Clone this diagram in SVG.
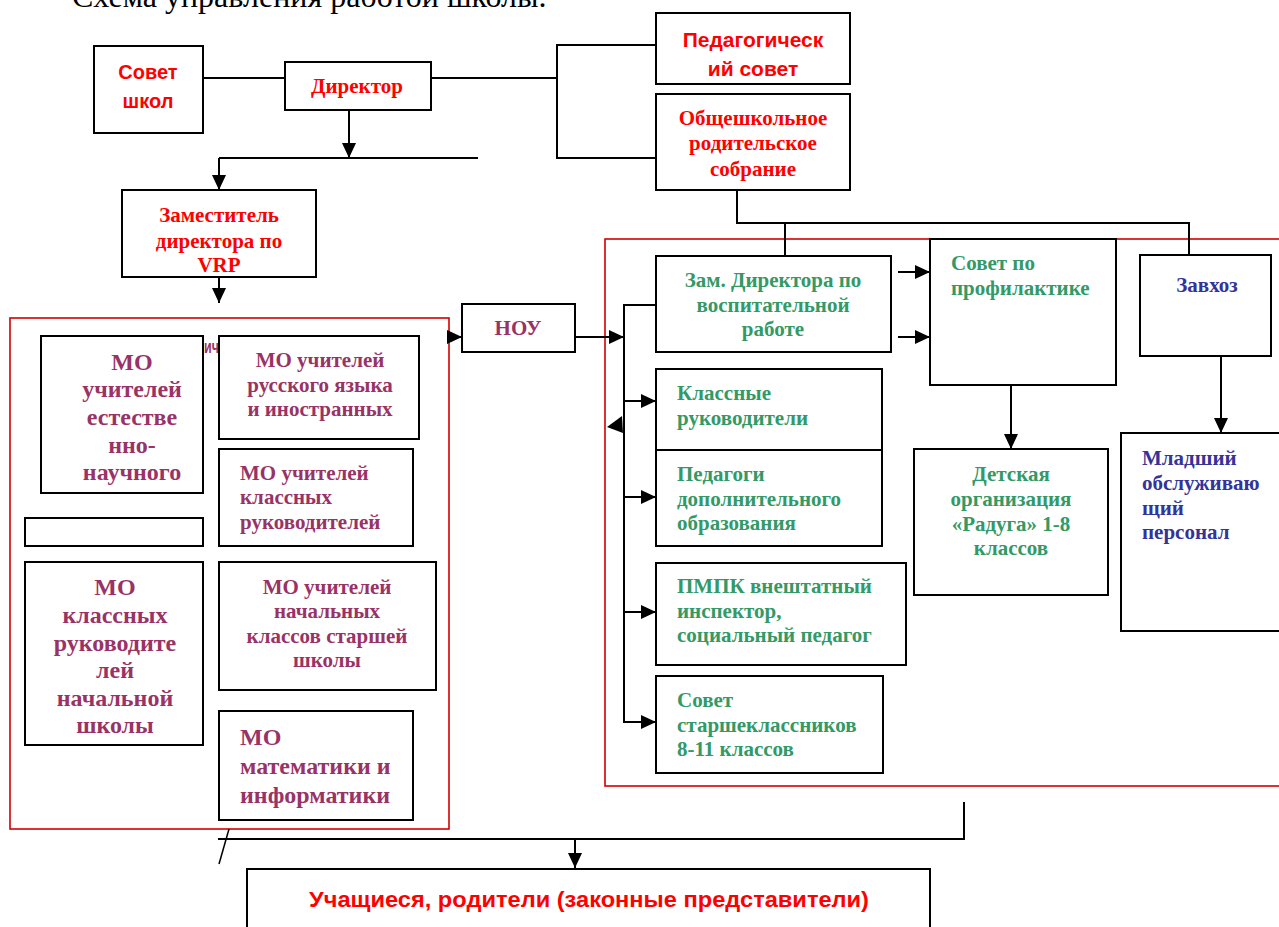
<svg xmlns="http://www.w3.org/2000/svg" width="1279" height="927" viewBox="0 0 1279 927">
<style>
.box{fill:#fff;stroke:#000;stroke-width:2}
.frame{fill:none;stroke:#d00000;stroke-width:1.6}
.ln{fill:none;stroke:#000;stroke-width:2}
.sr{font-family:"Liberation Serif","Times New Roman",serif;font-weight:bold;font-size:21px}
.sn{font-family:"Liberation Sans",Arial,sans-serif;font-weight:bold}
.big{font-size:24px}
.red{fill:#ff0000}
.mar{fill:#993366}
.grn{fill:#339966}
.blu{fill:#333399}
.c{text-anchor:middle}
</style>
<defs>
<marker id="arr" viewBox="0 0 15 14" refX="15" refY="7" markerWidth="15" markerHeight="14" markerUnits="userSpaceOnUse" orient="auto">
<path d="M0,0 L15,7 L0,14 z" fill="#000"/>
</marker>
</defs>
<rect width="1279" height="927" fill="#fff"/>

<text x="72" y="7" font-family="Liberation Serif,serif" font-size="32" fill="#000">Схема управления работой школы.</text>

<!-- frames -->
<rect class="frame" x="10" y="318" width="439" height="511"/>
<rect class="frame" x="605" y="239" width="690" height="547"/>

<text class="sn mar" x="204" y="353" font-size="18" textLength="15" lengthAdjust="spacingAndGlyphs">ич</text>

<g id="connectors">
<line class="ln" x1="203" y1="78" x2="285" y2="78"/>
<line class="ln" x1="431" y1="78" x2="557" y2="78"/>
<polyline class="ln" points="656,45 557,45 557,158 656,158"/>
<line class="ln" x1="349" y1="110" x2="349" y2="158" marker-end="url(#arr)"/>
<line class="ln" x1="219" y1="158" x2="478" y2="158"/>
<line class="ln" x1="219" y1="158" x2="219" y2="190" marker-end="url(#arr)"/>
<line class="ln" x1="219" y1="277" x2="219" y2="303" marker-end="url(#arr)"/>
<line class="ln" x1="449" y1="337" x2="462" y2="337" marker-end="url(#arr)"/>
<line class="ln" x1="575" y1="337" x2="624" y2="337" marker-end="url(#arr)"/>
<polyline class="ln" points="656,305 624,305 624,723"/>
<line class="ln" x1="624" y1="401" x2="656" y2="401" marker-end="url(#arr)"/>
<line class="ln" x1="624" y1="497" x2="656" y2="497" marker-end="url(#arr)"/>
<line class="ln" x1="624" y1="612" x2="656" y2="612" marker-end="url(#arr)"/>
<line class="ln" x1="623" y1="722" x2="656" y2="722" marker-end="url(#arr)"/>
<polygon points="607,427 622,416 623,433" fill="#000"/>
<polyline class="ln" points="737,190 737,223 1189,223 1189,256"/>
<line class="ln" x1="785" y1="223" x2="785" y2="256"/>
<line class="ln" x1="898" y1="272" x2="930" y2="272" marker-end="url(#arr)"/>
<line class="ln" x1="898" y1="337" x2="930" y2="337" marker-end="url(#arr)"/>
<line class="ln" x1="1011" y1="385" x2="1011" y2="449" marker-end="url(#arr)"/>
<line class="ln" x1="1221" y1="356" x2="1221" y2="433" marker-end="url(#arr)"/>
<polyline class="ln" points="964,802 964,839 218,839"/>
<line class="ln" x1="575" y1="839" x2="575" y2="868" marker-end="url(#arr)"/>
<line x1="229" y1="829" x2="219" y2="864" stroke="#000" stroke-width="1.5"/>
</g>

<g id="sovet-shkol">
<rect class="box" x="94" y="46" width="109" height="87"/>
<text class="sn red c" x="148" y="79" font-size="20">Совет</text>
<text class="sn red c" x="148" y="108" font-size="20">школ</text>
</g>

<g id="direktor">
<rect class="box" x="285" y="62" width="146" height="48"/>
<text class="sr red c" x="357" y="93">Директор</text>
</g>

<g id="ped-sovet">
<rect class="box" x="656" y="13" width="194" height="71"/>
<text class="sn red c" x="753" y="47" font-size="21">Педагогическ</text>
<text class="sn red c" x="753" y="76" font-size="21">ий совет</text>
</g>

<g id="roditelskoe">
<rect class="box" x="656" y="94" width="194" height="96"/>
<text class="sr red c" x="753" y="125">Общешкольное</text>
<text class="sr red c" x="753" y="150">родительское</text>
<text class="sr red c" x="753" y="176">собрание</text>
</g>

<g id="zamestitel">
<rect class="box" x="122" y="190" width="194" height="87"/>
<text class="sr red c" x="219" y="222">Заместитель</text>
<text class="sr red c" x="219" y="248">директора по</text>
<text class="sr red c" x="219" y="272">VRP</text>
</g>

<g id="mo-estestv">
<rect class="box" x="41" y="336" width="162" height="157"/>
<text class="sr mar c big" x="132" y="370">МО</text>
<text class="sr mar c big" x="132" y="397">учителей</text>
<text class="sr mar c big" x="132" y="425">естестве</text>
<text class="sr mar c big" x="132" y="453">нно-</text>
<text class="sr mar c big" x="132" y="480">научного</text>
</g>

<g id="empty-box">
<rect class="box" x="25" y="518" width="178" height="28"/>
</g>

<g id="mo-russk">
<rect class="box" x="219" y="336" width="200" height="103"/>
<text class="sr mar c" x="320" y="367">МО учителей</text>
<text class="sr mar c" x="320" y="392">русского языка</text>
<text class="sr mar c" x="320" y="416">и иностранных</text>
</g>

<g id="mo-klass">
<rect class="box" x="219" y="449" width="194" height="97"/>
<text class="sr mar" x="240" y="480">МО учителей</text>
<text class="sr mar" x="240" y="504">классных</text>
<text class="sr mar" x="240" y="529">руководителей</text>
</g>

<g id="mo-klass-nach">
<rect class="box" x="25" y="562" width="178" height="183"/>
<text class="sr mar c big" x="115" y="595">МО</text>
<text class="sr mar c big" x="115" y="623">классных</text>
<text class="sr mar c big" x="115" y="651">руководите</text>
<text class="sr mar c big" x="115" y="678">лей</text>
<text class="sr mar c big" x="115" y="706">начальной</text>
<text class="sr mar c big" x="115" y="733">школы</text>
</g>

<g id="mo-nach">
<rect class="box" x="219" y="562" width="217" height="128"/>
<text class="sr mar c" x="327" y="594">МО учителей</text>
<text class="sr mar c" x="327" y="618">начальных</text>
<text class="sr mar c" x="327" y="643">классов старшей</text>
<text class="sr mar c" x="327" y="667">школы</text>
</g>

<g id="mo-mat">
<rect class="box" x="219" y="711" width="194" height="109"/>
<text class="sr mar big" x="240" y="745">МО</text>
<text class="sr mar big" x="240" y="774">математики и</text>
<text class="sr mar big" x="240" y="803">информатики</text>
</g>

<g id="nou">
<rect class="box" x="462" y="304" width="113" height="48"/>
<text class="sr mar c" x="518" y="335">НОУ</text>
</g>

<g id="zam-vosp">
<rect class="box" x="656" y="256" width="235" height="96"/>
<text class="sr grn c" x="773" y="287">Зам. Директора по</text>
<text class="sr grn c" x="773" y="312">воспитательной</text>
<text class="sr grn c" x="773" y="336">работе</text>
</g>

<g id="sovet-prof">
<rect class="box" x="930" y="239" width="186" height="146"/>
<text class="sr grn" x="951" y="270">Совет по</text>
<text class="sr grn" x="951" y="295">профилактике</text>
</g>

<g id="zavhoz">
<rect class="box" x="1140" y="255" width="131" height="101"/>
<text class="sr blu c" x="1207" y="292" font-size="23">Завхоз</text>
</g>

<g id="klass-ruk">
<rect class="box" x="656" y="369" width="226" height="81"/>
<text class="sr grn" x="677" y="400">Классные</text>
<text class="sr grn" x="677" y="425">руководители</text>
</g>

<g id="pedagogi">
<rect class="box" x="656" y="450" width="226" height="96"/>
<text class="sr grn" x="677" y="481">Педагоги</text>
<text class="sr grn" x="677" y="506">дополнительного</text>
<text class="sr grn" x="677" y="530">образования</text>
</g>

<g id="detskaya">
<rect class="box" x="914" y="449" width="194" height="146"/>
<text class="sr grn c" x="1011" y="481">Детская</text>
<text class="sr grn c" x="1011" y="506">организация</text>
<text class="sr grn c" x="1011" y="531">«Радуга» 1-8</text>
<text class="sr grn c" x="1011" y="555">классов</text>
</g>

<g id="mladshiy">
<rect class="box" x="1121" y="433" width="180" height="198"/>
<text class="sr blu" x="1142" y="465">Младший</text>
<text class="sr blu" x="1142" y="490">обслуживаю</text>
<text class="sr blu" x="1142" y="515">щий</text>
<text class="sr blu" x="1142" y="539">персонал</text>
</g>

<g id="pmpk">
<rect class="box" x="656" y="563" width="250" height="102"/>
<text class="sr grn" x="677" y="593">ПМПК внештатный</text>
<text class="sr grn" x="677" y="618">инспектор,</text>
<text class="sr grn" x="677" y="642">социальный педагог</text>
</g>

<g id="sovet-starsh">
<rect class="box" x="656" y="676" width="227" height="97"/>
<text class="sr grn" x="677" y="707">Совет</text>
<text class="sr grn" x="677" y="732">старшеклассников</text>
<text class="sr grn" x="677" y="756">8-11 классов</text>
</g>

<g id="uchashiesya">
<rect class="box" x="247" y="869" width="683" height="80"/>
<text class="sn red c" x="589" y="907" font-size="22" textLength="560" lengthAdjust="spacingAndGlyphs">Учащиеся, родители (законные  представители)</text>
</g>
</svg>
